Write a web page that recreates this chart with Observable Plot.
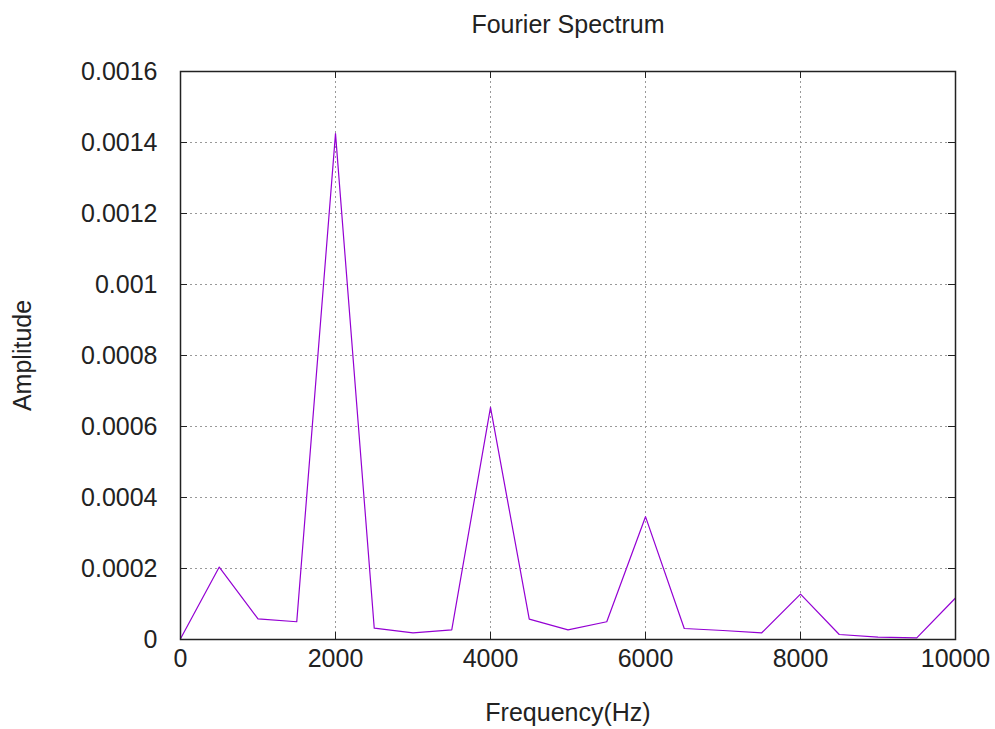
<!DOCTYPE html>
<html>
<head>
<meta charset="utf-8">
<script src="https://cdn.jsdelivr.net/npm/d3@7"></script>
<script src="https://cdn.jsdelivr.net/npm/@observablehq/plot@0.6"></script>
<style>
  html, body { margin: 0; padding: 0; background: #fff; }
</style>
</head>
<body>
<div id="chart"></div>
<script>
const title = "Fourier Spectrum";
const xLabel = "Frequency(Hz)";
const yLabel = "Amplitude";

const frequency = [0, 500, 1000, 1500, 2000, 2500, 3000, 3500, 4000, 4500, 5000,
                   5500, 6000, 6500, 7000, 7500, 8000, 8500, 9000, 9500, 10000];
const amplitude = [0.000002, 0.000204, 0.0000583, 0.00005, 0.001425, 0.0000319, 0.0000188,
                   0.0000272, 0.000654, 0.0000573, 0.0000272, 0.00005, 0.000346, 0.000031,
                   0.0000254, 0.0000189, 0.000128, 0.0000141, 0.0000065, 0.0000048, 0.000117];

const xTicks = [0, 2000, 4000, 6000, 8000, 10000];
const yTicks = [0, 0.0002, 0.0004, 0.0006, 0.0008, 0.001, 0.0012, 0.0014, 0.0016];

const data = frequency.map((f, i) => ({f, a: amplitude[i]}));

const W = 995, H = 729;
const mL = 180, mR = 40, mT = 71, mB = 90;
const pw = W - mL - mR, ph = H - mT - mB;
const tickLen = 7;
const frameColor = "#222";
const fs = 25;

const chart = Plot.plot({
  width: W,
  height: H,
  marginLeft: mL,
  marginRight: mR,
  marginTop: mT,
  marginBottom: mB,
  style: {
    fontFamily: "'Liberation Sans', Arial, sans-serif",
    fontSize: fs + "px",
    background: "#fff",
    color: "#222"
  },
  x: {domain: [0, 10000]},
  y: {domain: [0, 0.0016]},
  marks: [
    Plot.gridX(xTicks.slice(1, -1), {stroke: "#999", strokeOpacity: 1, strokeDasharray: "2,3"}),
    Plot.gridY(yTicks.slice(1, -1), {stroke: "#999", strokeOpacity: 1, strokeDasharray: "2,3"}),
    Plot.axisX(xTicks, {anchor: "bottom", tickSize: 0, tickPadding: 10, label: null, fontSize: fs,
      tickFormat: d => String(d)}),
    Plot.axisY(yTicks, {anchor: "left", tickSize: 0, tickPadding: 23, label: null, fontSize: fs,
      tickFormat: d => String(+d.toFixed(4))}),
    // inward mirrored tick marks
    Plot.tickY(yTicks, {y: d => d, stroke: frameColor, insetRight: pw - tickLen}),
    Plot.tickY(yTicks, {y: d => d, stroke: frameColor, insetLeft: pw - tickLen}),
    Plot.tickX(xTicks, {x: d => d, stroke: frameColor, insetTop: ph - tickLen}),
    Plot.tickX(xTicks, {x: d => d, stroke: frameColor, insetBottom: ph - tickLen}),
    Plot.line(data, {x: "f", y: "a", stroke: "#9400D3", strokeWidth: 1.2}),
    Plot.frame({stroke: frameColor, strokeWidth: 1.5}),
    Plot.text([title], {frameAnchor: "top", lineAnchor: "middle", dy: -47, fontSize: fs, fill: "#222"}),
    Plot.text([xLabel], {frameAnchor: "bottom", lineAnchor: "middle", dy: 73, fontSize: fs, fill: "#222"}),
    Plot.text([yLabel], {frameAnchor: "left", textAnchor: "middle", lineAnchor: "middle", dx: -158, rotate: -90, fontSize: fs, fill: "#222"})
  ]
});

document.getElementById("chart").appendChild(chart);
</script>
</body>
</html>
